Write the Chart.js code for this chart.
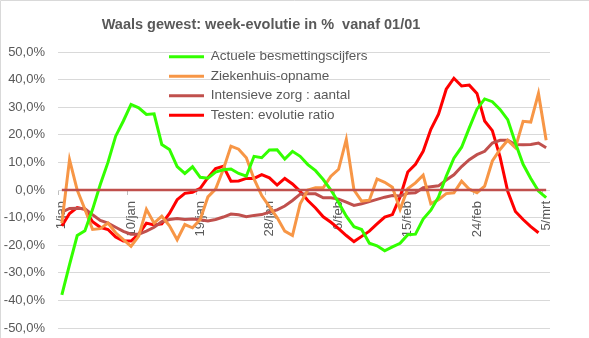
<!DOCTYPE html>
<html>
<head>
<meta charset="utf-8">
<script src="https://cdn.jsdelivr.net/npm/chart.js@4/dist/chart.umd.min.js"></script>
<style>
  html, body { margin: 0; padding: 0; background: #fff; }
  canvas { display: block; }
</style>
</head>
<body>
<canvas id="weekChart" width="589" height="338"></canvas>
<script>
// Days from 1/jan to 5/mrt (one point per day)
const months = ['jan', 'feb', 'mrt'];
const monthLengths = [31, 28, 5];
const days = [];
monthLengths.forEach(function(n, m) {
    for (let d = 1; d <= n; d++) days.push(d + '/' + months[m]);
});

// Week-evolution in %
const besmettingen = [-38, -27, -16.5, -14.8, -7, 2, 10, 19.5, 25, 31, 29.8, 27.4, 27.6, 16.5, 14.7, 8.5,
    6, 8.4, 4.6, 4.3, 6.5, 7.3, 7.6, 6, 5, 12.2, 11.7, 14.5, 14.6, 11.2, 14, 12.2,
    9.2, 7, 3.8, 0, -4.5, -9.5, -13.3, -14.3, -19.3, -20.2, -22, -20.6, -19.3, -16.2, -16, -10.5,
    -7.3, -2.5, 5, 11.5, 15.5, 22.5, 29.3, 33, 32, 29.2, 25.5, 17, 9.3, 4.2, -0.4, -2.8];

const ziekenhuis = [-12, 11, 0, -7, -14.3, -14, -12, -15.5, -18, -20.4, -16.7, -7, -12, -9.5, -13, -18,
    -12.5, -13.7, -10.7, -2.5, 0.3, 7.4, 15.9, 14.8, 11.7, 4, -2, -6, -10, -14.9, -16.5, -5,
    0, 0.8, 0.8, 5, 7.5, 18.3, 0, -4, -3.7, 4, 2.8, 1, -7, 0.5, 2.6, 5.4,
    -5, -3.5, -1.3, -1, 3.2, 0.3, -1, 1.4, 10.5, 14.7, 18, 15.3, 24.9, 24.6, 35, 18];

const intensieveZorg = [-8, -6.7, -6.6, -6.8, -9, -11, -12, -13.5, -15, -16, -16, -14.9, -13.5, -11.5, -10.7, -10.3,
    -10.7, -10.5, -10.8, -11.2, -10.7, -9.8, -8.7, -9, -9.7, -9.2, -8.9, -8, -7.2, -5.8, -3.8, -1.5,
    -1.4, -1.4, -2.8, -2.8, -3.3, -4.4, -5.6, -5, -4.2, -3.4, -2.6, -2, -2.2, -1.2, -1, 0.8,
    1.2, 1.5, 3.6, 5.5, 8.5, 11, 12.8, 14, 17, 18, 18, 16.5, 16.4, 16.5, 17, 15.3];

const testen = [-13, -8.5, -6.4, -7, -11.5, -13.5, -14.3, -17, -18.5, -18.5, -16, -12, -12.7, -12.3, -8.5, -3.5,
    -1.2, -0.8, 0.6, 4.5, 7.8, 8.6, 3.2, 3.3, 4.2, 4.2, 5.6, 4.4, 1.8, 4.2, 2.2, -0.5,
    -3.8, -6.5, -9.7, -11.7, -14, -16.5, -18.7, -16.8, -14.9, -12.3, -9.8, -8.9, -2.5, 6.5, 9.3, 14,
    22, 27.5, 36.5, 40.5, 37.7, 38, 35, 25, 21.5, 12, -0.5, -7.8, -10.7, -13.3, -15.5, null];

// Zero reference line drawn across the data range
const nulLijn = days.map(function() { return 0; });

const seriesNames = ['Actuele besmettingscijfers', 'Ziekenhuis-opname', 'Intensieve zorg : aantal', 'Testen: evolutie ratio'];
const chartTitle = 'Waals gewest: week-evolutie in %  vanaf 01/01';

const textColor = '#595959';
const fontFamily = '"Liberation Sans", Arial, sans-serif';

// Title and outer frame, drawn like the Excel chart
const frameAndTitle = {
    id: 'frameAndTitle',
    beforeDraw(chart) {
        const c = chart.ctx;
        c.save();
        c.strokeStyle = '#D9D9D9';
        c.lineWidth = 1;
        c.beginPath();
        c.moveTo(0.5, chart.height);
        c.lineTo(0.5, 0.5);
        c.lineTo(chart.width, 0.5);
        c.stroke();
        c.restore();
    },
    afterDraw(chart) {
        const c = chart.ctx;
        c.save();
        c.fillStyle = textColor;
        c.font = 'bold 14.5px ' + fontFamily;
        c.textAlign = 'center';
        c.textBaseline = 'middle';
        c.fillText(chartTitle, 261, 25);
        c.restore();
    }
};

// Put the legend inside the plot, top left of centre
const legendPlacer = {
    id: 'legendPlacer',
    afterLayout(chart) {
        const lg = chart.legend;
        if (!lg) return;
        lg.left = 163;
        lg.top = 44;
    }
};

const lineStyle = function(label, data, color, width) {
    return {
        label: label,
        data: data,
        borderColor: color,
        backgroundColor: color,
        borderWidth: width,
        pointRadius: 0,
        pointHoverRadius: 0,
        tension: 0,
        fill: false,
        spanGaps: false
    };
};

const ctx = document.getElementById('weekChart').getContext('2d');
const weekChart = new Chart(ctx, {
    type: 'line',
    data: {
        labels: days,
        datasets: [
            lineStyle('nul', nulLijn, '#C0504D', 2.5),
            lineStyle(seriesNames[0], besmettingen, '#33FF00', 3),
            lineStyle(seriesNames[1], ziekenhuis, '#F79646', 3),
            lineStyle(seriesNames[2], intensieveZorg, '#C0504D', 3),
            lineStyle(seriesNames[3], testen, '#FF0000', 3)
        ]
    },
    options: {
        responsive: false,
        animation: false,
        devicePixelRatio: 1,
        layout: {
            padding: { top: 52, right: 39, bottom: 10, left: 2 }
        },
        plugins: {
            title: { display: false },
            tooltip: { enabled: false },
            legend: {
                display: true,
                position: 'chartArea',
                align: 'start',
                labels: {
                    filter: function(item) { return item.text !== 'nul'; },
                    usePointStyle: true,
                    pointStyle: 'line',
                    pointStyleWidth: 35,
                    boxHeight: 13,
                    padding: 6,
                    color: textColor,
                    font: { family: fontFamily, size: 13.5 }
                }
            }
        },
        scales: {
            x: {
                type: 'category',
                position: { y: 0 },
                offset: true,
                border: { display: false },
                grid: {
                    offset: true,
                    drawOnChartArea: false,
                    drawTicks: true,
                    tickLength: 5,
                    tickColor: function(c) { return c.index % 9 === 0 ? '#BFBFBF' : 'rgba(0,0,0,0)'; }
                },
                ticks: {
                    autoSkip: false,
                    minRotation: 90,
                    maxRotation: 90,
                    padding: 6,
                    color: textColor,
                    font: { family: fontFamily, size: 13 },
                    callback: function(value, index) {
                        return index % 9 === 0 ? days[index] : '';
                    }
                },
                // the axis sits at 0 inside the plot, so it takes no room below it
                afterFit: function(scale) { scale.height = 0; }
            },
            y: {
                min: -50,
                max: 50,
                border: { display: false },
                grid: {
                    color: '#D9D9D9',
                    lineWidth: 1,
                    drawTicks: true,
                    tickLength: 13,
                    tickColor: 'rgba(0,0,0,0)'
                },
                ticks: {
                    stepSize: 10,
                    padding: 0,
                    color: textColor,
                    font: { family: fontFamily, size: 13 },
                    callback: function(v) {
                        return v.toFixed(1).replace('.', ',') + '%';
                    }
                },
                afterFit: function(scale) { scale.width = 56; }
            }
        }
    },
    plugins: [frameAndTitle, legendPlacer]
});
</script>
</body>
</html>
